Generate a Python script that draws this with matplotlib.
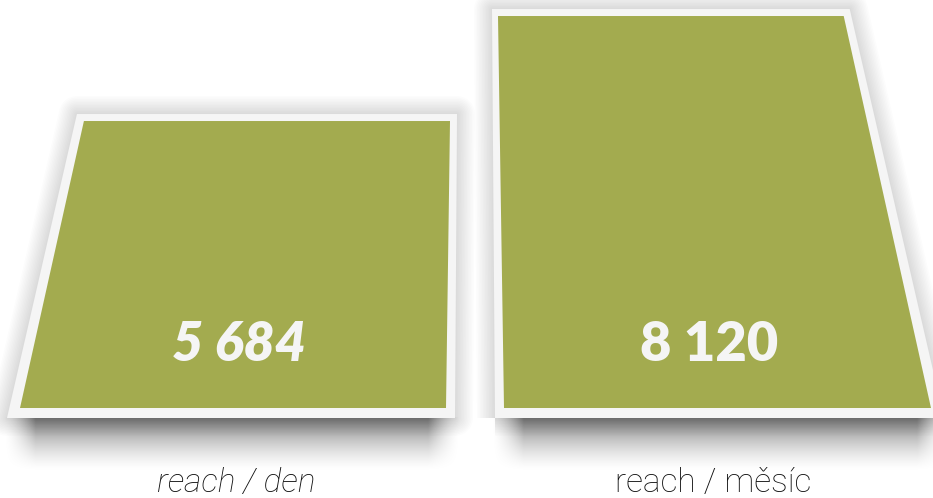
import numpy as np
import matplotlib
matplotlib.use("Agg")
from matplotlib import pyplot as plt
from matplotlib.patches import Polygon

# data
labels = ["reach / den", "reach / měsíc"]
values = [5684, 8120]
value_text = ["5 684", "8 120"]
label_style = ["italic", "normal"]

GREEN = "#a3ab4f"
FRAME = "#f5f5f5"

W, H = 933, 498
# vertical scale: data units per pixel, axis floor sits below zero
UPP = 23.2
BASE = -974
TOP = BASE + 408 * UPP  # data value at top pixel row
BOTTOM = BASE - 90 * UPP

fig = plt.figure(figsize=(W / 100, H / 100), dpi=100)
ax = fig.add_axes([0, 0, 1, 1])
ax.set_xlim(0, W)
ax.set_ylim(BOTTOM, TOP)
ax.axis("off")

# layout of the two slanted bars (pixels along x)
bar_left = [20, 504]      # bottom-left x of green area
bar_right = [446, 931]    # bottom-right x of green area
lean = [1, -1]            # left bar leans right, right bar leans left
slant = 0.0096            # px of lean per data unit of height


def px(n):
    return n * UPP


for i, v in enumerate(values):
    h = v - BASE
    d = slant * h * lean[i]
    if lean[i] > 0:
        tl, tr = bar_left[i] + d, bar_right[i] + 4
        ol_b, or_b = bar_left[i] - 13, bar_right[i] + 9
        ol_t, or_t = tl - 7, tr + 7
    else:
        tl, tr = bar_left[i] - 6, bar_right[i] + d
        ol_b, or_b = bar_left[i] - 9, bar_right[i] + 13
        ol_t, or_t = tl - 6, tr + 6
    inner = [(bar_left[i], BASE), (bar_right[i], BASE), (tr, v), (tl, v)]
    outer = [(ol_b, BASE - px(10)), (or_b, BASE - px(10)),
             (or_t, v + px(7)), (ol_t, v + px(7))]

    # soft glow around the frame
    for lw in np.linspace(2, 26, 12):
        ax.add_patch(Polygon(outer, closed=True, fill=False, edgecolor="black",
                             lw=lw, alpha=0.01, joinstyle="round", zorder=1))

    # drop shadow under the bar
    x0, x1 = ol_b + 2, or_b
    ny, nx = 80, 300
    yy = np.linspace(0, 1, ny)[:, None]
    xx = np.linspace(0, 1, nx)[None, :]
    vert = np.clip(1 - yy, 0, 1) ** 1.5
    edge = 0.07
    horiz = np.clip(np.minimum(xx, 1 - xx) / edge, 0, 1) ** 1.5
    alpha = 0.52 * vert * horiz
    img = np.zeros((ny, nx, 4))
    img[..., 3] = alpha
    ax.imshow(img, extent=[x0 - 6, x1 + 6, BASE - px(10) - px(54), BASE - px(10)],
              aspect="auto", origin="upper", zorder=1.5, interpolation="bilinear")

    ax.add_patch(Polygon(outer, closed=True, facecolor=FRAME, edgecolor="none", zorder=2))
    ax.add_patch(Polygon(inner, closed=True, facecolor=GREEN, edgecolor="none", zorder=3))

    cx = (bar_left[i] + bar_right[i]) / 2 + (6 if lean[i] > 0 else -8)
    ax.text(cx, BASE + px(63), value_text[i], ha="center", va="center",
            color=FRAME, fontsize=39, fontweight="heavy", family="Lato",
            style=label_style[i], zorder=4)
    ax.text(cx - 3 if lean[i] > 0 else cx + 4, BASE - px(84), labels[i],
            ha="center", va="baseline", color="#111111", fontsize=24,
            family="Roboto", fontweight="light", style=label_style[i], zorder=4)

fig.savefig("out.png", dpi=100, facecolor="white")
